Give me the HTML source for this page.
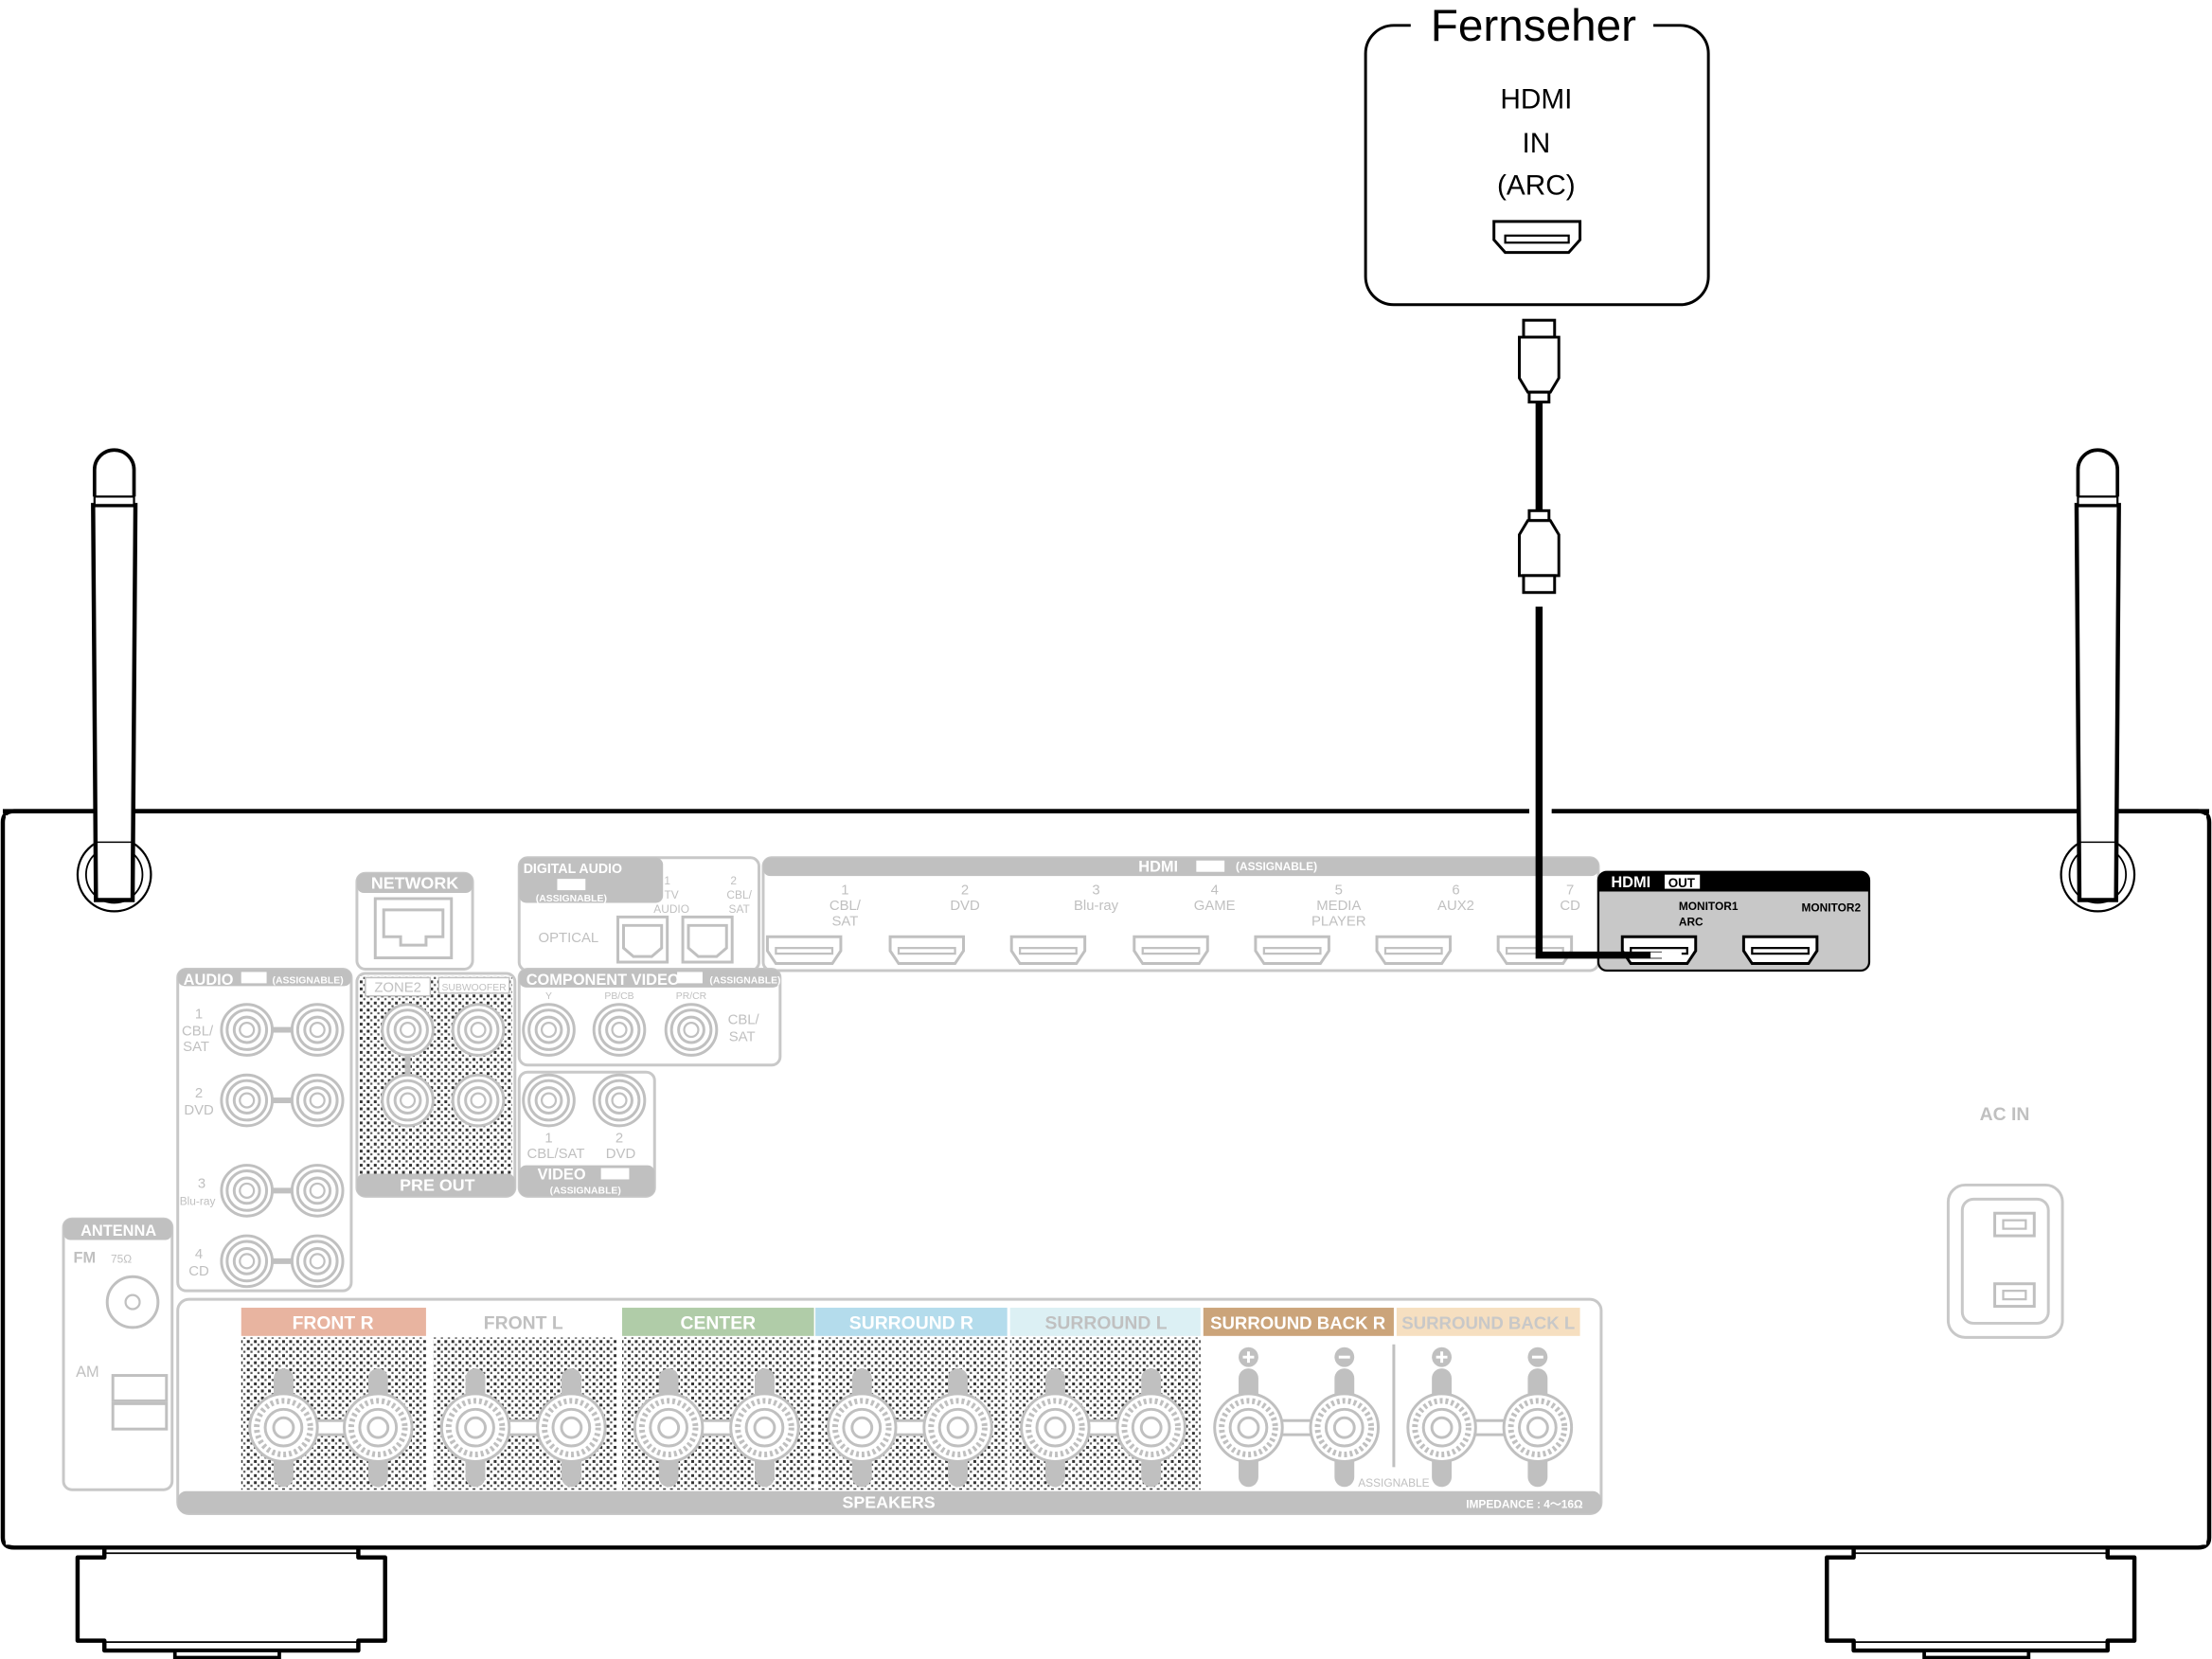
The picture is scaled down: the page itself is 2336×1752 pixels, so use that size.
<!DOCTYPE html>
<html><head><meta charset="utf-8"><style>html,body{margin:0;padding:0;background:#fff}svg{display:block}</style></head>
<body>
<svg width="2336" height="1752" viewBox="0 0 1568 1176" xmlns="http://www.w3.org/2000/svg" font-family="Liberation Sans, sans-serif">
<defs>
<pattern id="dots" width="5" height="5" patternUnits="userSpaceOnUse">
<rect width="5" height="5" fill="#fff"/>
<rect x="0" y="0" width="2" height="2" fill="#333"/><rect x="2.5" y="2.5" width="1.5" height="1.5" fill="#555"/>
</pattern>
<g id="rca"><circle r="18" fill="#fff" stroke="#c0c0c0" stroke-width="2"/><circle r="14" fill="none" stroke="#c0c0c0" stroke-width="2"/><circle r="9" fill="none" stroke="#c0c0c0" stroke-width="2"/><circle r="5" fill="none" stroke="#c0c0c0" stroke-width="1.5"/></g>
<g id="hdmi"><path d="M-26,-10 H26 V0 L20,9 H-20 L-26,0 Z" fill="#fff" stroke="#c0c0c0" stroke-width="2"/><rect x="-20" y="-2" width="40" height="4" fill="none" stroke="#c0c0c0" stroke-width="1.5"/></g>
<g id="hdmib"><path d="M-26,-10 H26 V0 L20,9 H-20 L-26,0 Z" fill="#fff" stroke="#000" stroke-width="2"/><rect x="-20" y="-2" width="40" height="4" fill="none" stroke="#000" stroke-width="1.5"/></g>
<g id="post"><rect x="-7" y="-42" width="14" height="84" rx="7" fill="#c0c0c0"/><circle r="24" fill="#fff" stroke="#c0c0c0" stroke-width="2"/><circle r="19" fill="none" stroke="#c0c0c0" stroke-width="4" stroke-dasharray="2 2"/><circle r="13" fill="#fff" stroke="#c0c0c0" stroke-width="2"/><circle r="7" fill="none" stroke="#c0c0c0" stroke-width="2"/></g>
<g id="foot">
<path d="M74,1097 V1104 H55 V1163 H74 V1170 H254 V1163 H273 V1104 H254 V1097" fill="#fff" stroke="#000" stroke-width="3" stroke-linejoin="round"/>
<line x1="74" y1="1101" x2="254" y2="1101" stroke="#000" stroke-width="1.2"/>
<line x1="74" y1="1164" x2="254" y2="1164" stroke="#000" stroke-width="1.2"/>
<rect x="124" y="1170" width="74" height="5" fill="#fff" stroke="#000" stroke-width="2.5"/>
</g>
</defs>

<!-- TV box -->
<rect x="968" y="18" width="243" height="198" rx="20" fill="#fff" stroke="#000" stroke-width="2"/>
<rect x="1000" y="8" width="172" height="20" fill="#fff"/>
<text x="1087" y="29" font-size="32" text-anchor="middle">Fernseher</text>
<text x="1089" y="77" font-size="20" text-anchor="middle">HDMI</text>
<text x="1089" y="108" font-size="20" text-anchor="middle">IN</text>
<text x="1089" y="138" font-size="20" text-anchor="middle">(ARC)</text>
<path d="M1059,157 H1120 V170 L1112,179 H1067 L1059,170 Z" fill="#fff" stroke="#000" stroke-width="2"/>
<rect x="1067" y="167" width="45" height="5" fill="none" stroke="#000" stroke-width="1.5"/>

<!-- cable -->
<g fill="#fff" stroke="#000" stroke-width="2">
<rect x="1080" y="227" width="22" height="12"/>
<path d="M1077,239 H1105 V268 L1099,278 H1083 L1077,268 Z"/>
<rect x="1084" y="278" width="14" height="7"/>
</g>
<line x1="1091" y1="285" x2="1091" y2="362" stroke="#000" stroke-width="5"/>
<g fill="#fff" stroke="#000" stroke-width="2">
<rect x="1084" y="362" width="14" height="7"/>
<path d="M1083,369 H1099 L1105,379 V408 H1077 V379 Z"/>
<rect x="1080" y="408" width="22" height="12"/>
</g>

<!-- feet -->
<use href="#foot"/>
<use href="#foot" transform="translate(1240,0)"/>

<!-- receiver body -->
<path d="M1084,575 H10 Q2,575 2,583 V1090 Q2,1097 10,1097 H1558 Q1566,1097 1566,1090 V583 Q1566,575 1558,575 H1100" fill="none" stroke="#000" stroke-width="3"/>
<rect x="4" y="578" width="1560" height="517" fill="#fff" stroke="none"/>

<!-- antennas -->
<g id="ant" fill="#fff" stroke="#000">
<circle cx="81" cy="620" r="26" stroke-width="1.5"/>
<circle cx="81" cy="620" r="20" stroke-width="1.2"/>
<path d="M67,352 V333 A14,14 0 0 1 95,333 V352" stroke-width="2.5"/>
<path d="M66,358 L68,638 H94 L96,358 Z" stroke-width="3"/>
<rect x="67" y="352" width="28" height="6" stroke-width="1.5"/>
<line x1="68" y1="597" x2="94" y2="597" stroke-width="1"/>
</g>
<use href="#ant" transform="translate(1406,0)"/>
<!-- redraw top edge over antenna interior gaps -->
<path d="M2,575 H66 M96,575 H1084 M1100,575 H1472 M1502,575 H1566" stroke="#000" stroke-width="3"/>

<!-- AC IN -->
<text x="1421" y="794" font-size="13" fill="#c0c0c0" text-anchor="middle" font-weight="bold">AC IN</text>
<rect x="1381" y="840" width="81" height="108" rx="12" fill="#fff" stroke="#c8c8c8" stroke-width="2"/>
<rect x="1391" y="850" width="61" height="88" rx="8" fill="none" stroke="#c8c8c8" stroke-width="2"/>
<rect x="1414" y="860" width="28" height="16" fill="none" stroke="#c0c0c0" stroke-width="2"/><rect x="1420" y="865" width="16" height="6" fill="none" stroke="#c0c0c0" stroke-width="1.5"/>
<rect x="1414" y="910" width="28" height="16" fill="none" stroke="#c0c0c0" stroke-width="2"/><rect x="1420" y="915" width="16" height="6" fill="none" stroke="#c0c0c0" stroke-width="1.5"/>

<g stroke="#c8c8c8" stroke-width="2" fill="#fff">
<rect x="253" y="619" width="82" height="68" rx="6"/>
<rect x="368" y="608" width="170" height="80" rx="6"/>
<rect x="541" y="608" width="592" height="80" rx="6"/>
<rect x="126" y="687" width="123" height="228" rx="6"/>
<rect x="253" y="690" width="112" height="158" rx="6"/>
<rect x="368" y="687" width="185" height="68" rx="6"/>
<rect x="368" y="760" width="96" height="88" rx="6"/>
<rect x="45" y="864" width="77" height="192" rx="6"/>
<rect x="126" y="921" width="1009" height="152" rx="8"/>
</g>
<g fill="#c0c0c0">
<rect x="253" y="619" width="82" height="14" rx="5"/>
<rect x="368" y="608" width="102" height="32" rx="5"/>
<rect x="541" y="608" width="592" height="13" rx="5"/>
<rect x="126" y="687" width="123" height="12" rx="5"/>
<rect x="253" y="832" width="112" height="16" rx="5"/>
<rect x="368" y="687" width="185" height="13" rx="5"/>
<rect x="368" y="826" width="96" height="22" rx="5"/>
<rect x="45" y="864" width="77" height="15" rx="5"/>
<rect x="126" y="1057" width="1009" height="16" rx="6"/>
</g>
<rect x="255" y="692" width="108" height="140" fill="url(#dots)"/>
<g fill="#fff" stroke="#c0c0c0" stroke-width="1"><rect x="259" y="693" width="46" height="13"/><rect x="311" y="693" width="50" height="11"/></g>
<text x="282" y="703" font-size="10" fill="#c0c0c0" text-anchor="middle">ZONE2</text>
<text x="336" y="702" font-size="7" fill="#c0c0c0" text-anchor="middle">SUBWOOFER</text>
<g fill="#fff" font-weight="bold" font-size="12">
<text x="294" y="630" text-anchor="middle">NETWORK</text>
<text x="371" y="619" font-size="10" textLength="70" lengthAdjust="spacingAndGlyphs">DIGITAL AUDIO</text>
<rect x="395" y="623" width="20" height="8" fill="#fff"/>
<text x="405" y="639" text-anchor="middle" font-size="7">(ASSIGNABLE)</text>
<text x="807" y="618" font-size="11">HDMI</text>
<rect x="848" y="610" width="20" height="8"/>
<text x="876" y="617" font-size="8">(ASSIGNABLE)</text>
<text x="130" y="698" font-size="11">AUDIO</text>
<rect x="171" y="689" width="18" height="8"/>
<text x="193" y="697" font-size="7">(ASSIGNABLE)</text>
<text x="310" y="844" text-anchor="middle">PRE OUT</text>
<text x="373" y="698" font-size="11">COMPONENT VIDEO</text>
<rect x="480" y="689" width="18" height="8"/>
<text x="503" y="697" font-size="7">(ASSIGNABLE)</text>
<text x="381" y="836" font-size="11">VIDEO</text>
<rect x="426" y="828" width="20" height="8"/>
<text x="415" y="846" text-anchor="middle" font-size="7">(ASSIGNABLE)</text>
<text x="84" y="876" text-anchor="middle" font-size="11">ANTENNA</text>
<text x="630" y="1069" text-anchor="middle">SPEAKERS</text>
<text x="1122" y="1069" text-anchor="end" font-size="8">IMPEDANCE : 4～16Ω</text>
</g>
<g fill="#c0c0c0" font-size="10" text-anchor="middle">
<text x="403" y="668">OPTICAL</text>
<text x="473" y="627" font-size="8">1</text><text x="476" y="637" font-size="8">TV</text><text x="476" y="647" font-size="8">AUDIO</text>
<text x="520" y="627" font-size="8">2</text><text x="524" y="637" font-size="8">CBL/</text><text x="524" y="647" font-size="8">SAT</text>
<text x="599" y="634">1</text><text x="599" y="645">CBL/</text><text x="599" y="656">SAT</text>
<text x="684" y="634">2</text><text x="684" y="645">DVD</text>
<text x="777" y="634">3</text><text x="777" y="645">Blu-ray</text>
<text x="861" y="634">4</text><text x="861" y="645">GAME</text>
<text x="949" y="634">5</text><text x="949" y="645">MEDIA</text><text x="949" y="656">PLAYER</text>
<text x="1032" y="634">6</text><text x="1032" y="645">AUX2</text>
<text x="1113" y="634">7</text><text x="1113" y="645">CD</text>
<text x="141" y="722">1</text><text x="140" y="734">CBL/</text><text x="139" y="745">SAT</text>
<text x="141" y="778">2</text><text x="141" y="790">DVD</text>
<text x="143" y="842">3</text><text x="140" y="854" font-size="8">Blu-ray</text>
<text x="141" y="892">4</text><text x="141" y="904">CD</text>
<text x="389" y="708" font-size="7">Y</text><text x="439" y="708" font-size="7">PB/CB</text><text x="490" y="708" font-size="7">PR/CR</text>
<text x="527" y="726">CBL/</text><text x="526" y="738">SAT</text>
<text x="389" y="810">1</text><text x="394" y="821">CBL/SAT</text><text x="439" y="810">2</text><text x="440" y="821">DVD</text>
<text x="60" y="895" font-weight="bold" font-size="11">FM</text><text x="86" y="895" font-size="8">75Ω</text>
<text x="62" y="976" font-size="11">AM</text>
<text x="988" y="1054" font-size="8">ASSIGNABLE</text>
</g>

<!-- optical/network ports -->
<g fill="#fff" stroke="#c0c0c0" stroke-width="2"><rect x="438" y="650" width="35" height="32"/><rect x="484" y="650" width="35" height="32"/><rect x="266" y="637" width="54" height="42"/><path d="M272,645 H314 V664 H302 V670 H284 V664 H272 Z"/>
<path d="M442,656 H469 V672 L462,678 H449 L442,672 Z"/><path d="M488,656 H515 V672 L508,678 H495 L488,672 Z"/></g>

<!-- HDMI IN ports -->
<use href="#hdmi" x="570" y="674"/><use href="#hdmi" x="657" y="674"/><use href="#hdmi" x="743" y="674"/><use href="#hdmi" x="830" y="674"/><use href="#hdmi" x="916" y="674"/><use href="#hdmi" x="1002" y="674"/><use href="#hdmi" x="1088" y="674"/>

<!-- HDMI OUT -->
<rect x="1133" y="618" width="192" height="70" rx="6" fill="#c8c8c8" stroke="#000" stroke-width="1.5"/>
<path d="M1133,632 V624 Q1133,618 1139,618 H1319 Q1325,618 1325,624 V632 Z" fill="#000"/>
<text x="1142" y="629" font-size="11" fill="#fff" font-weight="bold">HDMI</text>
<rect x="1180" y="620" width="25" height="10" fill="#fff"/><text x="1192" y="629" font-size="9" text-anchor="middle" font-weight="bold">OUT</text>
<text x="1190" y="645" font-size="8" font-weight="bold">MONITOR1</text><text x="1190" y="656" font-size="8" font-weight="bold">ARC</text>
<text x="1277" y="646" font-size="8" font-weight="bold">MONITOR2</text>
<use href="#hdmib" x="1176" y="674"/><use href="#hdmib" x="1262" y="674"/>

<!-- cable into port -->
<path d="M1091,430 V677 H1178" fill="none" stroke="#000" stroke-width="5"/>
<rect x="1170" y="675" width="22" height="4" fill="#fff"/>

<!-- RCA jacks -->
<g>
<rect x="190" y="728" width="20" height="4" fill="#c0c0c0"/><rect x="190" y="778" width="20" height="4" fill="#c0c0c0"/><rect x="190" y="842" width="20" height="4" fill="#c0c0c0"/><rect x="190" y="892" width="20" height="4" fill="#c0c0c0"/>
<rect x="287" y="745" width="4" height="20" fill="#c0c0c0"/>
<use href="#rca" x="175" y="730"/><use href="#rca" x="225" y="730"/>
<use href="#rca" x="175" y="780"/><use href="#rca" x="225" y="780"/>
<use href="#rca" x="175" y="844"/><use href="#rca" x="225" y="844"/>
<use href="#rca" x="175" y="894"/><use href="#rca" x="225" y="894"/>
<use href="#rca" x="289" y="730"/><use href="#rca" x="339" y="730"/>
<use href="#rca" x="289" y="780"/><use href="#rca" x="339" y="780"/>
<use href="#rca" x="389" y="730"/><use href="#rca" x="439" y="730"/><use href="#rca" x="490" y="730"/>
<use href="#rca" x="389" y="780"/><use href="#rca" x="439" y="780"/>
</g>
<circle cx="94" cy="923" r="18" fill="#fff" stroke="#c0c0c0" stroke-width="2"/><circle cx="94" cy="923" r="5" fill="none" stroke="#c0c0c0" stroke-width="1.5"/>
<g fill="#fff" stroke="#c0c0c0" stroke-width="2"><rect x="80" y="975" width="38" height="18"/><rect x="80" y="995" width="38" height="18"/></g>

<!-- speaker headers -->
<rect x="171" y="927" width="131" height="20" fill="#e8b4a0"/>
<rect x="441" y="927" width="136" height="20" fill="#b0cca8"/>
<rect x="578" y="927" width="136" height="20" fill="#b4dcec"/>
<rect x="716" y="927" width="135" height="20" fill="#dcf0f4"/>
<rect x="853" y="927" width="135" height="20" fill="#cba47a"/>
<rect x="990" y="927" width="130" height="20" fill="#f6dfc0"/>
<g font-size="13" font-weight="bold" text-anchor="middle">
<text x="236" y="942" fill="#fff">FRONT R</text>
<text x="371" y="942" fill="#c0c0c0">FRONT L</text>
<text x="509" y="942" fill="#fff">CENTER</text>
<text x="646" y="942" fill="#fff">SURROUND R</text>
<text x="784" y="942" fill="#c0c0c0">SURROUND L</text>
<text x="920" y="942" fill="#fff" font-size="12.5">SURROUND BACK R</text>
<text x="1055" y="942" fill="#c8c8c8" font-size="12.5">SURROUND BACK L</text>
</g>
<g fill="url(#dots)">
<rect x="171" y="948" width="131" height="108"/><rect x="307" y="948" width="130" height="108"/><rect x="441" y="948" width="136" height="108"/><rect x="580" y="948" width="134" height="108"/><rect x="716" y="948" width="135" height="108"/>
</g>
<line x1="988" y1="953" x2="988" y2="1040" stroke="#c0c0c0" stroke-width="2"/>
<g>
<g transform="translate(201,1012)"><rect x="0" y="-5" width="67" height="10" fill="#fff" stroke="#c0c0c0" stroke-width="2"/><use href="#post"/><use href="#post" x="67"/></g>
<g transform="translate(337,1012)"><rect x="0" y="-5" width="68" height="10" fill="#fff" stroke="#c0c0c0" stroke-width="2"/><use href="#post"/><use href="#post" x="68"/></g>
<g transform="translate(474,1012)"><rect x="0" y="-5" width="68" height="10" fill="#fff" stroke="#c0c0c0" stroke-width="2"/><use href="#post"/><use href="#post" x="68"/></g>
<g transform="translate(611,1012)"><rect x="0" y="-5" width="68" height="10" fill="#fff" stroke="#c0c0c0" stroke-width="2"/><use href="#post"/><use href="#post" x="68"/></g>
<g transform="translate(748,1012)"><rect x="0" y="-5" width="68" height="10" fill="#fff" stroke="#c0c0c0" stroke-width="2"/><use href="#post"/><use href="#post" x="68"/></g>
<g transform="translate(885,1012)"><rect x="0" y="-5" width="68" height="10" fill="#fff" stroke="#c0c0c0" stroke-width="2"/><use href="#post"/><use href="#post" x="68"/></g>
<g transform="translate(1022,1012)"><rect x="0" y="-5" width="68" height="10" fill="#fff" stroke="#c0c0c0" stroke-width="2"/><use href="#post"/><use href="#post" x="68"/></g>
</g>
<g fill="#c0c0c0">
<circle cx="885" cy="962" r="7"/><circle cx="953" cy="962" r="7"/><circle cx="1022" cy="962" r="7"/><circle cx="1090" cy="962" r="7"/>
</g>
<g stroke="#fff" stroke-width="2">
<path d="M881,962 H889 M885,958 V966"/><path d="M949,962 H957"/><path d="M1018,962 H1026 M1022,958 V966"/><path d="M1086,962 H1094"/>
</g>
</svg>
</body></html>
